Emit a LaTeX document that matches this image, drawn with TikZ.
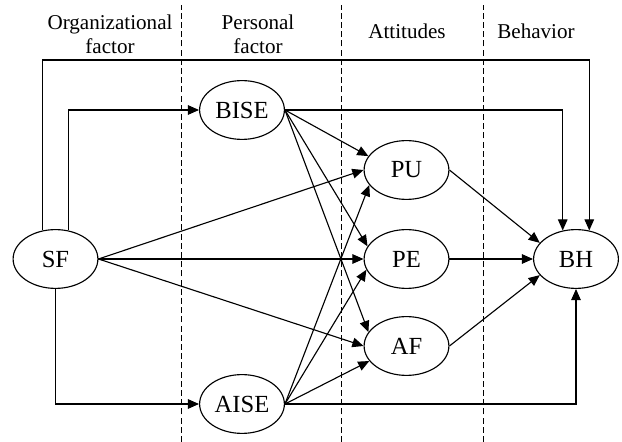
\documentclass[tikz,border=0pt]{standalone}
\usepackage{fontspec}
\setmainfont{Liberation Serif}
\usepackage{tikz}
\usetikzlibrary{arrows.meta,positioning,calc,shapes.geometric}
\tikzset{
  var/.style={ellipse,draw=black,line width=0.8pt,minimum width=21.2mm,
              minimum height=14.7mm,inner sep=0pt,font=\fontsize{17.5}{20}\selectfont},
  hdr/.style={align=center,font=\fontsize{15}{17}\selectfont},
  divider/.style={dashed,dash pattern=on 1.5mm off 0.8mm,line width=0.7pt},
  link/.style={-{Triangle[length=2.8mm,width=2.4mm]},line width=0.8pt},
}

\begin{document}
\begin{tikzpicture}
  \useasboundingbox (0,0) rectangle (15.55,11.05);
  % stage dividers
  \foreach \xd in {4.525,8.525,12.075}
    \draw[divider] (\xd,0) -- (\xd,10.925);
  % stage headers
  \node[hdr] (horg) at (2.75,10.2) {Organizational\\factor};
  \node[hdr] (hper) at (6.45,10.2) {Personal\\factor};
  \node[hdr] (hatt) at (10.175,10.27) {Attitudes};
  \node[hdr] (hbeh) at (13.4,10.27) {Behavior};
  % variables
  \node[var] (SF) at (1.3875,4.575) {SF};
  \node[var] (BISE) at (6.05,8.3) {BISE};
  \node[var] (AISE) at (6.05,0.95) {AISE};
  \node[var] (PU) at (10.1625,6.8) {PU};
  \node[var] (PE) at (10.1625,4.575) {PE};
  \node[var] (AF) at (10.1625,2.4) {AF};
  \node[var] (BH) at (14.4,4.575) {BH};
  \coordinate (rail) at (0,9.55);
  % SF paths
  \draw[link] (SF.114) -- (SF.114 |- rail) -- (BH.65 |- rail) -- (BH.65);
  \draw[link] (SF.66) |- (BISE.west);
  \draw[link] (SF.south) |- (AISE.west);
  \draw[link] (SF.east) -- (PU.west);
  \draw[link] (SF.east) -- (PE.west);
  \draw[link] (SF.east) -- (AF.west);
  % self-efficacy paths
  \draw[link] (BISE.east) -| (BH.115);
  \draw[link] (BISE.east) -- (PU.160);
  \draw[link] (BISE.east) -- (PE.162);
  \draw[link] (BISE.east) -- (AF.160);
  \draw[link] (AISE.east) -| (BH.south);
  \draw[link] (AISE.east) -- (PU.202);
  \draw[link] (AISE.east) -- (PE.195);
  \draw[link] (AISE.east) -- (AF.202);
  % attitudes to behavior
  \draw[link] (PU.east) -- (BH.156);
  \draw[link] (PE.east) -- (BH.west);
  \draw[link] (AF.east) -- (BH.204);
\end{tikzpicture}
\end{document}
